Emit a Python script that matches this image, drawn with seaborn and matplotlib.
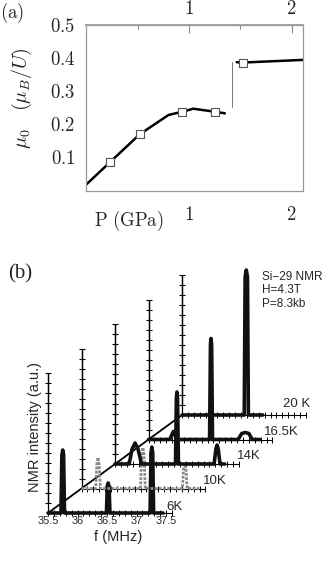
import numpy as np
import pandas as pd
import matplotlib
matplotlib.use('Agg')
import matplotlib.pyplot as plt
import matplotlib.ticker as mticker
import seaborn as sns

sns.set_theme(style='white')
plt.rcParams['mathtext.fontset'] = 'cm'
plt.rcParams['font.family'] = ['Liberation Sans', 'DejaVu Sans']

# (a) ordered moment vs pressure
P_low = [0.0, 0.23, 0.52, 0.80, 0.88, 0.93, 1.04, 1.25, 1.35]
mu_low = [0.019, 0.086, 0.170, 0.228, 0.234, 0.237, 0.247, 0.238, 0.233]
P_high = [1.465, 1.523, 2.114]
mu_high = [0.387, 0.386, 0.394]
P_jump = [1.416, 1.416]
mu_jump = [0.251, 0.389]
sq_P = [0.23, 0.522, 0.929, 1.253, 1.523]
sq_mu = [0.0855, 0.170, 0.237, 0.237, 0.386]

# (b) Si-29 NMR spectra, f in MHz, intensity in a.u.
temps = ['6K', '10K', '14K', '16.5K', '20 K']
f_6K = [35.50, 35.72, 35.735, 35.75, 35.765, 35.78, 36.49, 36.505, 36.52, 36.535, 36.55,
        37.23, 37.245, 37.26, 37.275, 37.29, 37.45]
I_6K = [0, 0, 58, 63, 58, 0, 0, 27, 30, 27, 0, 0, 60, 66, 60, 0, 0]
f_10K = [35.50, 35.74, 35.76, 35.78, 35.80, 35.82, 36.50, 36.52, 36.54, 36.56, 36.58,
         37.21, 37.23, 37.25, 37.27, 37.29, 37.50]
I_10K = [0, 0, 24, 31, 24, 0, 0, 34, 41, 34, 0, 0, 20, 25, 20, 0, 0]
f_14K = [35.50, 35.74, 35.79, 35.84, 35.89, 35.95, 36.525, 36.54, 36.55, 36.56, 36.575,
         37.18, 37.21, 37.23, 37.25, 37.28, 37.36]
I_14K = [0, 0, 15, 21, 15, 0, 0, 66, 72, 66, 0, 0, 15, 19, 15, 0, 0]
f_16K = [35.50, 35.86, 35.92, 35.98, 36.535, 36.55, 36.56, 36.57, 36.585,
         37.02, 37.08, 37.14, 37.20, 37.26, 37.39]
I_16K = [0, 0, 8, 0, 0, 95, 101, 95, 0, 0, 6, 7, 6, 0, 0]
f_20K = [35.50, 36.555, 36.57, 36.59, 36.61, 36.625, 36.87]
I_20K = [0, 0, 138, 145, 138, 0, 0]
spectra = [(f_6K, I_6K), (f_10K, I_10K), (f_14K, I_14K), (f_16K, I_16K), (f_20K, I_20K)]
f_ticks = [35.5, 36, 36.5, 37, 37.5]
trace_colors = ['#111111', '#8a8a8a', '#111111', '#111111', '#111111']

W, H = 332, 568
fig = plt.figure(figsize=(W / 100, H / 100), dpi=100)

# ---------- panel (a) ----------
ax = fig.add_axes([86.4 / W, 1 - 190.7 / H, (303.3 - 86.4) / W, (190.7 - 24.7) / H])
sns.lineplot(x=P_low, y=mu_low, ax=ax, color='black', lw=1.8, sort=False, estimator=None)
sns.lineplot(x=P_high, y=mu_high, ax=ax, color='black', lw=1.8, sort=False, estimator=None)
sns.lineplot(x=P_jump, y=mu_jump, ax=ax, color='#777777', lw=0.7, sort=False, estimator=None)
sns.scatterplot(x=sq_P, y=sq_mu, ax=ax, marker='s', s=26, color='white',
                edgecolor='#555555', linewidth=0.8, zorder=3)
ax.set_xlim(0, 2.114)
ax.set_ylim(0, 0.5)
for s in ax.spines.values():
    s.set_color('#9a9a9a')
    s.set_linewidth(0.9)
fmt = mticker.FuncFormatter(lambda v, p: f'${v:g}$')
ax.set_xticks([1, 2])
ax.set_xticks([0.5, 1.5], minor=True)
ax.xaxis.set_major_formatter(fmt)
ax.set_yticks([0.1, 0.2, 0.3, 0.4, 0.5])
ax.yaxis.set_major_formatter(fmt)
ax.tick_params(axis='x', which='major', direction='in', length=5.8, width=0.8, color='#888888',
               labelsize=13.5, pad=11)
ax.tick_params(axis='x', which='minor', direction='in', length=2.9, width=0.8, color='#888888')
ax.tick_params(axis='y', direction='in', length=5.8, width=0.8, color='#888888', labelsize=13.5, pad=8)
sec = ax.secondary_xaxis('top')
sec.set_xticks([1, 2])
sec.set_xticks([0.5, 1.5], minor=True)
sec.xaxis.set_major_formatter(fmt)
sec.tick_params(axis='x', which='major', direction='in', length=5.8, width=0.8, color='#888888',
                labelsize=13.5, pad=5)
sec.tick_params(axis='x', which='minor', direction='in', length=2.9, width=0.8, color='#888888')
sec.spines['top'].set_color('#9a9a9a')
ax.set_xlabel('')
ax.set_ylabel('')
fig.text(22 / W, 1 - 98 / H, r'$\mu_0\quad(\mu_B/U)$', rotation=90, ha='center', va='center', fontsize=14.5)
fig.text(129 / W, 1 - 221 / H, r'$\mathrm{P\ (GPa)}$', ha='center', va='center', fontsize=13.5)
fig.text(12 / W, 1 - 13 / H, r'$\mathrm{(a)}$', ha='center', va='center', fontsize=13.5)

# ---------- panel (b) ----------
bx = fig.add_axes([0, 0, 1, (H - 250) / H])
bx.set_axis_off()
px_per_mhz = 59.0
DX = 33.5 / px_per_mhz
DY = 24.5
bx.set_xlim(35.5 - 48 / px_per_mhz, 35.5 + (W - 48) / px_per_mhz)
bx.set_ylim(513 - H, 513 - 250)

ruler_f = np.arange(35.5, 37.66, 0.1)
axis_I = np.arange(10, 141, 10)
for k in range(len(temps)):
    x0, y0 = 35.5 + k * DX, k * DY
    # baseline ruler
    bx.plot(ruler_f + k * DX, np.full(len(ruler_f), y0), color='black', lw=0.8,
            marker='|', markersize=4, markeredgewidth=0.7)
    # vertical intensity axis
    bx.plot(np.full(len(axis_I), x0), axis_I + y0, color='black', lw=0.9,
            marker='_', markersize=5, markeredgewidth=0.8)
    bx.plot([x0, x0], [y0, y0 + 140], color='black', lw=0.9)

# depth axis
bx.plot([35.5, 35.5 + 4 * DX], [0, 4 * DY], color='black', lw=1.3)

for k, (f, I) in enumerate(spectra):
    df = pd.DataFrame({'f': np.array(f) + k * DX, 'I': np.array(I) + k * DY})
    sns.lineplot(data=df, x='f', y='I', ax=bx, sort=False, estimator=None,
                 color=trace_colors[k], lw=2.6 if k != 1 else 2.0,
                 linestyle='-' if k != 1 else (0, (1.0, 0.5)))

for ft in f_ticks:
    bx.text(ft, -8, f'{ft:g}', ha='center', va='center', fontsize=7.8)
bx.set_xlabel('')
bx.set_ylabel('')
fig.text(118 / W, 1 - 537 / H, 'f (MHz)', ha='center', va='center', fontsize=10.5)
fig.text(35 / W, 1 - 427 / H, 'NMR intensity (a.u.)', rotation=90, ha='center', va='center', fontsize=10.5)
label_px = [(166, 507), (203, 481), (237, 456), (264, 432), (283, 404)]
for t, (lx, ly) in zip(temps, label_px):
    fig.text(lx / W, 1 - ly / H, t, ha='left', va='center', fontsize=9.5)
fig.text(262 / W, 1 - 271 / H, 'Si\u221229 NMR\nH=4.3T\nP=8.3kb', ha='left', va='top',
         fontsize=8.5, linespacing=1.15)
fig.text(20 / W, 1 - 274 / H, '(b)', ha='center', va='center', fontsize=15,
         family=['Liberation Serif', 'DejaVu Serif'])

fig.savefig('out.png', dpi=100)
